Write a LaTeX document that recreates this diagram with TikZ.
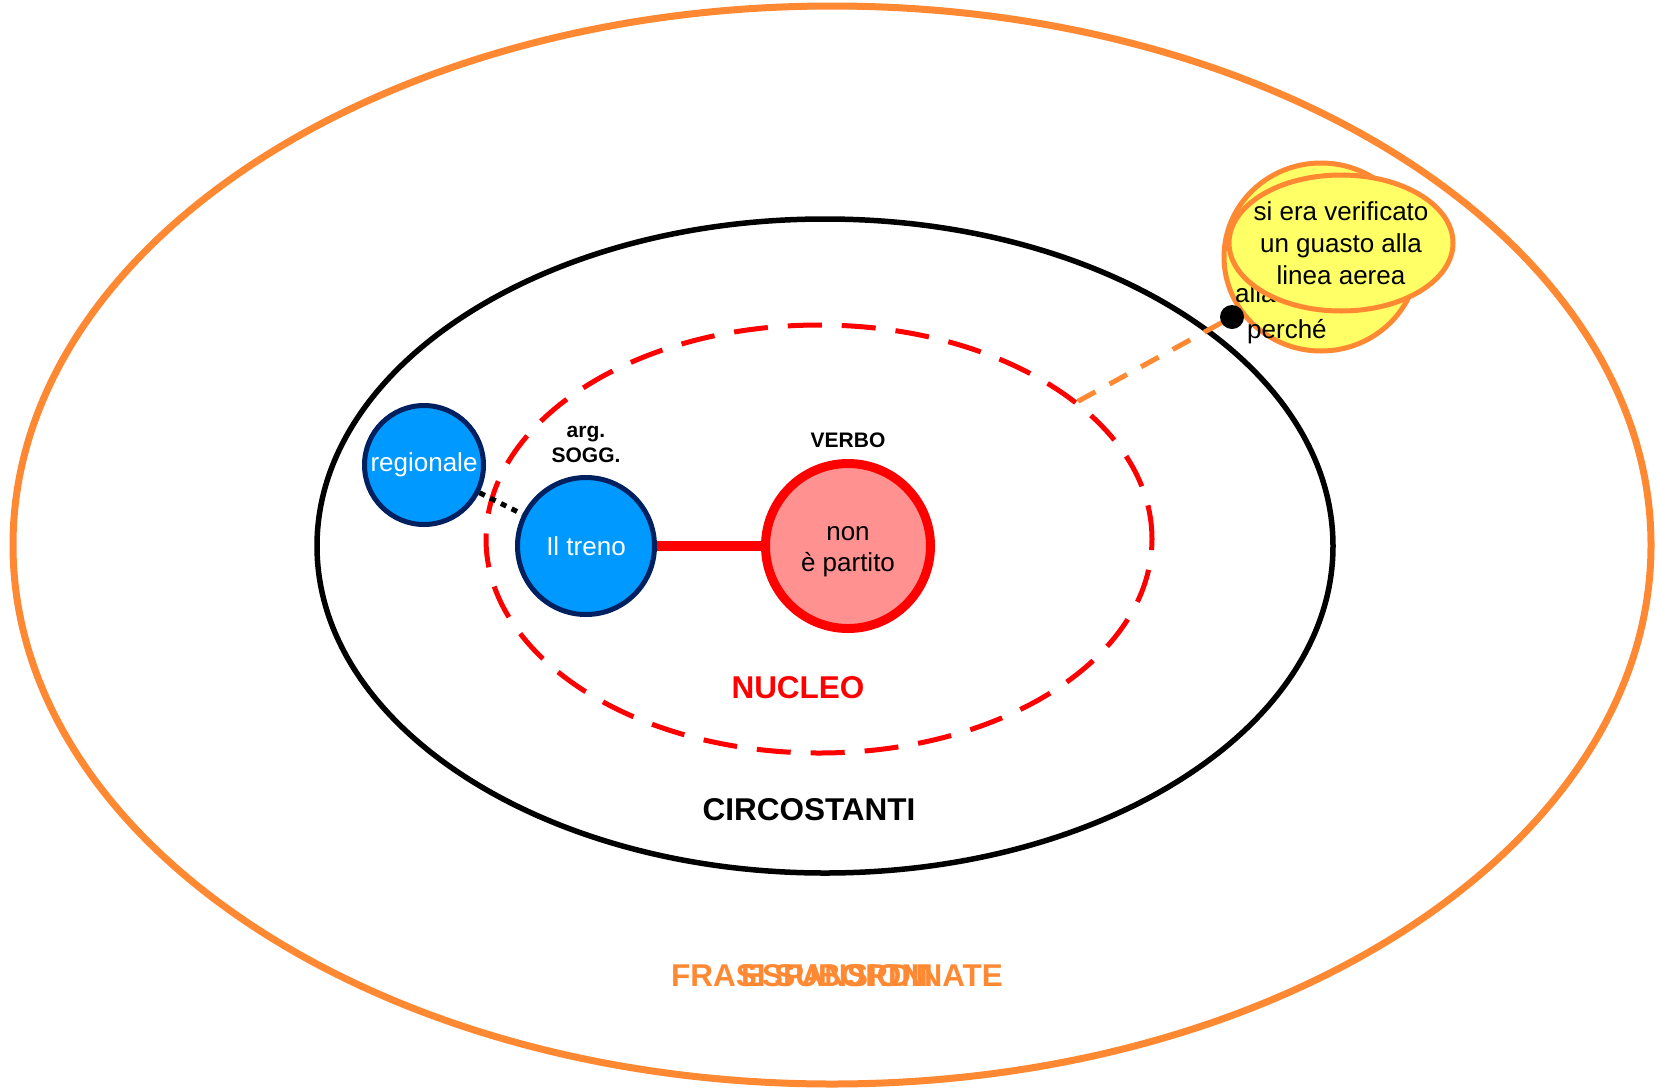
\documentclass[tikz,border=0pt]{standalone}
\usepackage{fontspec}
\setmainfont{Liberation Sans}
\usetikzlibrary{shapes.geometric}
\definecolor{arancio}{RGB}{255,137,51}
\definecolor{azzurro}{RGB}{0,153,255}
\definecolor{blunotte}{RGB}{0,32,96}
\definecolor{salmone}{RGB}{255,145,145}
\definecolor{giallo}{RGB}{255,255,102}
\begin{document}
\begin{tikzpicture}[x=1pt,y=-1pt,
	argomento/.style={circle,draw=blunotte,fill=azzurro,line width=5pt,text=white,
		inner sep=0pt,font=\fontsize{26}{32}\selectfont},
	verbo/.style={circle,draw=red,fill=salmone,line width=9pt,inner sep=0pt,
		align=center,font=\fontsize{26}{32}\selectfont},
	nuvola/.style={ellipse,draw=arancio,fill=giallo,line width=5pt,inner sep=0pt},
	etichetta/.style={align=center,font=\fontsize{21}{25}\selectfont\bfseries},
	titolo/.style={font=\fontsize{31.5}{36}\selectfont\bfseries},
	testo/.style={font=\fontsize{26}{32}\selectfont,inner sep=0pt}]
\useasboundingbox (0,0) rectangle (1658,1088);
\draw[arancio,line width=7pt] (832,545) ellipse [x radius=819,y radius=539];
\draw[line width=5.5pt] (825,546) ellipse [x radius=508,y radius=327];
\node[ellipse,draw=red,line width=5pt,dash pattern=on 34pt off 20pt,inner sep=0pt,
	minimum width=666pt,minimum height=428pt] (nucleo) at (819,539) {};
\node[argomento,minimum size=119pt] (regionale) at (424,465) {regionale};
\node[argomento,minimum size=137pt] (treno) at (586,546) {Il treno};
\node[verbo,minimum size=165pt] (nonpartito) at (848,546) {\raisebox{-4pt}[\height][\depth]{\begin{tabular}{@{}c@{}}non\\[-1pt]è partito\end{tabular}}};
\draw[red,line width=10pt] (treno) -- (nonpartito);
\draw[line width=5pt,dash pattern=on 6pt off 6pt] (regionale) -- (treno);
\node[etichetta] (argsogg) at (586,444) {arg.\\SOGG.};
\node[etichetta] (verbolab) at (848,440) {VERBO};
\node[titolo,text=red] (nucleolab) at (798,688) {NUCLEO};
\node[titolo] (circostanti) at (809,810) {CIRCOSTANTI};
\node[titolo,text=arancio] (frasi) at (837,976) {FRASI SUBORDINATE};
\node[titolo,text=arancio] (espansioni) at (837,976) {ESPANSIONI};
\node[nuvola,minimum width=194pt,minimum height=188pt] (espansione) at (1321,257) {};
\node[testo,anchor=west] (alla) at (1235,293) {alla stazione.};
\node[testo,anchor=west] (perche) at (1247,332) {perché};
\node[nuvola,inner xsep=-10pt,inner ysep=0pt,minimum width=224pt,minimum height=136pt,
	align=center,font=\fontsize{26}{32}\selectfont] (subordinata) at (1341,243)
	{\raisebox{-3pt}[\height][\depth]{\begin{tabular}{@{}c@{}}si era verificato\\un guasto alla\\linea aerea\end{tabular}}};
\draw[arancio,line width=5pt,dash pattern=on 20pt off 16pt] (nucleo.28) -- (1232,317);
\node[circle,fill=black,minimum size=24pt,inner sep=0pt] (punto) at (1232,317) {};
\end{tikzpicture}
\end{document}
